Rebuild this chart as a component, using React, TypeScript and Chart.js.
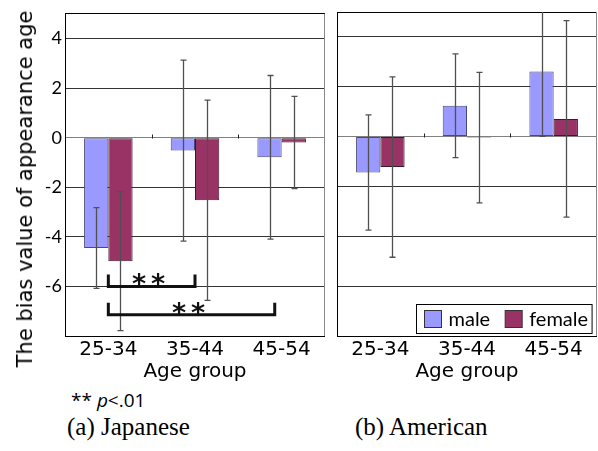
import React, { useEffect, useRef } from 'react';
import { Chart, registerables } from 'chart.js';

Chart.register(...registerables);

// ---------- data ----------
const categories = ['25-34', '35-44', '45-54'];
const seriesNames = ['male', 'female'];
const seriesColors = ['#9999FF', '#993366'];
const seriesBorders = ['#4a4a7a', '#3a1a28'];

const jpMale = [-4.45, -0.52, -0.79];
const jpMaleErr = [1.63, 3.65, 3.3];
const jpFemale = [-4.98, -2.52, -0.19];
const jpFemaleErr = [2.8, 4.04, 1.86];

const usMale = [-1.44, 1.24, 2.61];
const usMaleErr = [2.31, 2.08, 2.6];
const usFemale = [-1.22, -0.04, 0.71];
const usFemaleErr = [3.62, 2.62, 3.94];

const yTicks = [-6, -4, -2, 0, 2, 4];
const yMin = -8;
const yMax = 5;
const yTitle = 'The bias value of appearance age';
const xTitle = 'Age group';

// significance brackets (category index from/to, level in value units)
const sigFrom = [0, 0];
const sigTo = [1, 1.92];
const sigLevel = [-6.0, -7.14];
const sigLabel = ['**', '**'];

const AXIS_FONT = 'DejaVu Sans';

// ---------- plugins ----------
const framePlugin = {
  id: 'frame',
  beforeDatasetsDraw(chart: any) {
    const { ctx, chartArea, scales } = chart;
    const x = scales.x;
    const y = scales.y;
    ctx.save();
    ctx.strokeStyle = '#8a8a8a';
    ctx.lineWidth = 1;
    ctx.beginPath();
    const rx = Math.round(chartArea.right) - 0.5;
    ctx.moveTo(rx, chartArea.top);
    ctx.lineTo(rx, chartArea.bottom);
    ctx.stroke();
    const y0 = Math.round(y.getPixelForValue(0)) + 0.5;
    ctx.strokeStyle = '#222';
    for (let i = 1; i < categories.length; i++) {
      const bx = Math.round((x.getPixelForTick(i - 1) + x.getPixelForTick(i)) / 2) + 0.5;
      ctx.beginPath();
      ctx.moveTo(bx, y0);
      ctx.lineTo(bx, y0 - 4);
      ctx.stroke();
    }
    ctx.restore();
  },
};

const errorBarsPlugin = {
  id: 'errorBars',
  afterDatasetsDraw(chart: any) {
    const { ctx, chartArea, scales } = chart;
    const y = scales.y;
    ctx.save();
    ctx.beginPath();
    ctx.rect(chartArea.left, chartArea.top, chartArea.right - chartArea.left, chartArea.bottom - chartArea.top);
    ctx.clip();
    chart.data.datasets.forEach((ds: any, i: number) => {
      const meta = chart.getDatasetMeta(i);
      meta.data.forEach((bar: any, j: number) => {
        const v = ds.data[j];
        const e = ds.errors[j];
        const x = Math.round(bar.x) + 0.5;
        const yt = y.getPixelForValue(v + e);
        const yb = y.getPixelForValue(v - e);
        ctx.strokeStyle = '#505050';
        ctx.lineWidth = 1.3;
        ctx.beginPath();
        ctx.moveTo(x, yt);
        ctx.lineTo(x, yb);
        ctx.moveTo(x - 3, yt);
        ctx.lineTo(x + 3, yt);
        ctx.moveTo(x - 3, yb);
        ctx.lineTo(x + 3, yb);
        ctx.stroke();
      });
    });
    ctx.restore();
  },
};

const bracketsPlugin = {
  id: 'sigBrackets',
  afterDatasetsDraw(chart: any, _args: any, opts: any) {
    if (!opts || !opts.show) return;
    const { ctx, scales } = chart;
    const x = scales.x;
    const y = scales.y;
    ctx.save();
    for (let i = 0; i < sigFrom.length; i++) {
      const x1 = x.getPixelForValue(sigFrom[i]);
      const x2 = x.getPixelForValue(sigTo[i]);
      const yl = y.getPixelForValue(sigLevel[i]);
      ctx.strokeStyle = '#111';
      ctx.lineWidth = 3;
      ctx.lineJoin = 'miter';
      ctx.beginPath();
      ctx.moveTo(x1, yl - 12);
      ctx.lineTo(x1, yl);
      ctx.lineTo(x2, yl);
      ctx.lineTo(x2, yl - 12);
      ctx.stroke();
      ctx.fillStyle = '#111';
      ctx.font = 'bold 27px "DejaVu Sans"';
      ctx.textAlign = 'center';
      ctx.textBaseline = 'alphabetic';
      const cx = (x1 + x2) / 2 - 3;
      const chars = sigLabel[i].split('');
      chars.forEach((c, k) => {
        const off = (k - (chars.length - 1) / 2) * 19;
        ctx.fillText(c, cx + off, yl + 7);
      });
    }
    ctx.restore();
  },
};

const boxLegendPlugin = {
  id: 'boxLegend',
  afterDraw(chart: any, _args: any, opts: any) {
    if (!opts || !opts.show) return;
    const { ctx, chartArea } = chart;
    ctx.save();
    ctx.font = '20px Lato';
    ctx.textBaseline = 'middle';
    ctx.textAlign = 'left';
    const sw = 17;
    const items = chart.data.datasets.map((ds: any) => ({
      label: ds.label,
      color: ds.backgroundColor,
      w: ctx.measureText(ds.label).width,
    }));
    let total = 8;
    items.forEach((it: any, k: number) => {
      total += sw + 7 + it.w + (k < items.length - 1 ? 15 : 4);
    });
    const h = 29;
    const bx = Math.round(chartArea.right - 5 - total) + 0.5;
    const by = Math.round(chartArea.bottom - 3 - h) + 0.5;
    ctx.fillStyle = '#fff';
    ctx.fillRect(bx, by, total, h);
    ctx.strokeStyle = '#000';
    ctx.lineWidth = 1;
    ctx.strokeRect(bx, by, total, h);
    let cx = bx + 8;
    items.forEach((it: any) => {
      ctx.fillStyle = it.color;
      ctx.fillRect(cx, by + 6, sw, sw);
      ctx.strokeStyle = '#333';
      ctx.strokeRect(cx, by + 6, sw, sw);
      cx += sw + 7;
      ctx.fillStyle = '#000';
      ctx.fillText(it.label, cx, by + h / 2 + 1);
      cx += it.w + 15;
    });
    ctx.restore();
  },
};

function makeConfig(male: number[], maleErr: number[], female: number[], femaleErr: number[], left: boolean) {
  const values = [male, female];
  const errs = [maleErr, femaleErr];
  return {
    type: 'bar',
    data: {
      labels: categories,
      datasets: seriesNames.map((name, k) => ({
        label: name,
        data: values[k],
        errors: errs[k],
        backgroundColor: seriesColors[k],
        borderColor: seriesBorders[k],
        borderWidth: 1,
        borderSkipped: false,
        barPercentage: 1,
        categoryPercentage: 0.56,
      })),
    },
    plugins: [framePlugin, errorBarsPlugin, bracketsPlugin, boxLegendPlugin],
    options: {
      responsive: false,
      animation: false,
      devicePixelRatio: 1,
      layout: { padding: { top: 12, right: left ? 5 : 1, left: 0, bottom: 0 } },
      plugins: {
        legend: { display: false },
        tooltip: { enabled: false },
        sigBrackets: { show: left },
        boxLegend: { show: !left },
      },
      scales: {
        x: {
          afterFit: (s: any) => {
            s.height = 49;
          },
          grid: { display: false, drawTicks: false },
          border: { display: false },
          ticks: {
            font: { family: AXIS_FONT, size: 20 },
            color: '#000',
            padding: 2,
            maxRotation: 0,
            autoSkip: false,
          },
          title: {
            display: true,
            text: xTitle,
            font: { family: AXIS_FONT, size: 20 },
            color: '#000',
            padding: { top: 0, bottom: 1 },
          },
        },
        y: {
          min: yMin,
          max: yMax,
          afterBuildTicks: (s: any) => {
            s.ticks = [yMin, ...yTicks, yMax].map((v) => ({ value: v }));
          },
          afterFit: (s: any) => {
            s.width = left ? 65 : 7;
          },
          grid: {
            drawTicks: false,
            lineWidth: 1,
            color: (c: any) => {
              const v = c.tick && c.tick.value;
              if (v === 0) return '#808080';
              if (v === yMin || v === yMax) return '#000';
              return '#333';
            },
          },
          border: { display: true, color: '#000', width: 1 },
          ticks: {
            display: left,
            padding: 3,
            font: { family: 'Lato', size: 18 },
            color: '#000',
            autoSkip: false,
            callback: (v: any) => (yTicks.includes(v) ? String(v) : ''),
          },
          title: { display: false },
        },
      },
    },
  } as any;
}

function Panel(props: { config: any; left: number; width: number; height: number }) {
  const ref = useRef<HTMLCanvasElement | null>(null);
  useEffect(() => {
    if (!ref.current) return;
    const chart = new Chart(ref.current, props.config);
    return () => chart.destroy();
  }, []);
  return (
    <canvas
      ref={ref}
      width={props.width}
      height={props.height}
      style={{ position: 'absolute', left: props.left, top: 0, width: props.width, height: props.height }}
    />
  );
}

export default function App() {
  const leftCfg = makeConfig(jpMale, jpMaleErr, jpFemale, jpFemaleErr, true);
  const rightCfg = makeConfig(usMale, usMaleErr, usFemale, usFemaleErr, false);
  return (
    <div style={{ position: 'absolute', left: 0, top: 0, width: 598, height: 451, background: '#fff', overflow: 'hidden' }}>
      <Panel config={leftCfg} left={0} width={330} height={385} />
      <Panel config={rightCfg} left={330} width={268} height={385} />
      <div
        style={{
          position: 'absolute',
          left: 25,
          top: 189,
          transform: 'translate(-50%, -50%) rotate(-90deg)',
          fontFamily: '"DejaVu Sans", sans-serif',
          fontSize: 21,
          lineHeight: '24px',
          color: '#000',
          whiteSpace: 'nowrap',
        }}
      >
        {yTitle}
      </div>
      <div
        style={{
          position: 'absolute',
          left: 71,
          top: 389,
          fontFamily: '"Open Sans", sans-serif',
          fontSize: 19,
          lineHeight: '22px',
          color: '#000',
          whiteSpace: 'nowrap',
        }}
      >
        ** <i>p</i>&lt;.01
      </div>
      <div
        style={{
          position: 'absolute',
          left: 67,
          top: 413,
          fontFamily: '"Liberation Serif", serif',
          fontSize: 25,
          lineHeight: '28px',
          color: '#000',
          whiteSpace: 'nowrap',
        }}
      >
        (a) Japanese
      </div>
      <div
        style={{
          position: 'absolute',
          left: 355,
          top: 413,
          fontFamily: '"Liberation Serif", serif',
          fontSize: 25,
          lineHeight: '28px',
          color: '#000',
          whiteSpace: 'nowrap',
        }}
      >
        (b) American
      </div>
    </div>
  );
}
